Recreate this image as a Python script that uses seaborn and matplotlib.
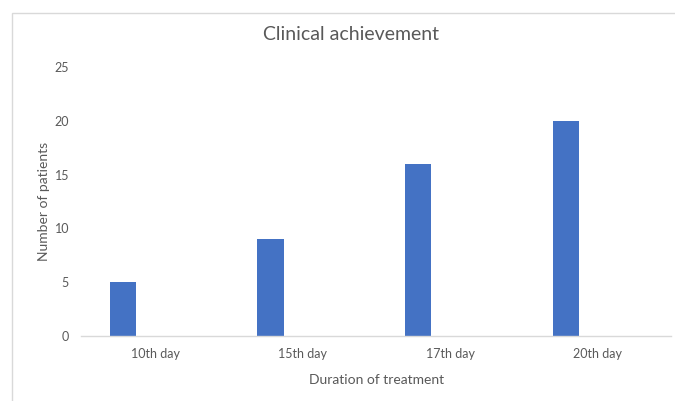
import matplotlib
matplotlib.use("Agg")
import matplotlib.pyplot as plt
import pandas as pd
import seaborn as sns
from matplotlib.patches import Rectangle

categories = ["10th day", "15th day", "17th day", "20th day"]
patients = [5, 9, 16, 20]
companion = [0, 0, 0, 0]
series_names = ["Patients", "Other"]
y_ticks = [0, 5, 10, 15, 20, 25]

sns.set_theme(style="white")
plt.rcParams["font.family"] = ["Lato", "DejaVu Sans"]

text_color = "#595959"
bar_color = "#4472C4"
line_color = "#D9D9D9"

df = pd.DataFrame({
    "day": categories * 2,
    "value": patients + companion,
    "series": [series_names[0]] * len(categories) + [series_names[1]] * len(categories),
})

fig = plt.figure(figsize=(6.75, 4.01), dpi=100)
ax = fig.add_axes([0.1207, 0.1621, 0.8741, 0.6708])

sns.barplot(data=df, x="day", y="value", hue="series", order=categories,
            hue_order=series_names, palette=[bar_color, bar_color],
            width=0.87, gap=0.59, dodge=True, legend=False,
            linewidth=0, saturation=1, ax=ax)

ax.set_ylim(0, 25)
ax.set_yticks(y_ticks)
ax.set_xlim(-0.5, len(categories) - 0.5)
for side in ["top", "right", "left"]:
    ax.spines[side].set_visible(False)
ax.spines["bottom"].set_color(line_color)
ax.spines["bottom"].set_linewidth(1)
ax.tick_params(axis="both", length=0, colors=text_color, labelsize=9)
ax.tick_params(axis="x", pad=9)
ax.tick_params(axis="y", pad=9)

ax.set_xlabel("Duration of treatment", color=text_color, fontsize=10, labelpad=10)
ax.set_ylabel("Number of patients", color=text_color, fontsize=10, labelpad=3)
fig.suptitle("Clinical achievement", x=0.52, y=0.935, color=text_color, fontsize=14)

# chart area border
fig.patches.append(Rectangle((12 / 675, -0.1), 1.2, 1 - 13 / 401 + 0.1,
                             transform=fig.transFigure, fill=False,
                             edgecolor=line_color, linewidth=1))

fig.savefig("out.png", dpi=100)
